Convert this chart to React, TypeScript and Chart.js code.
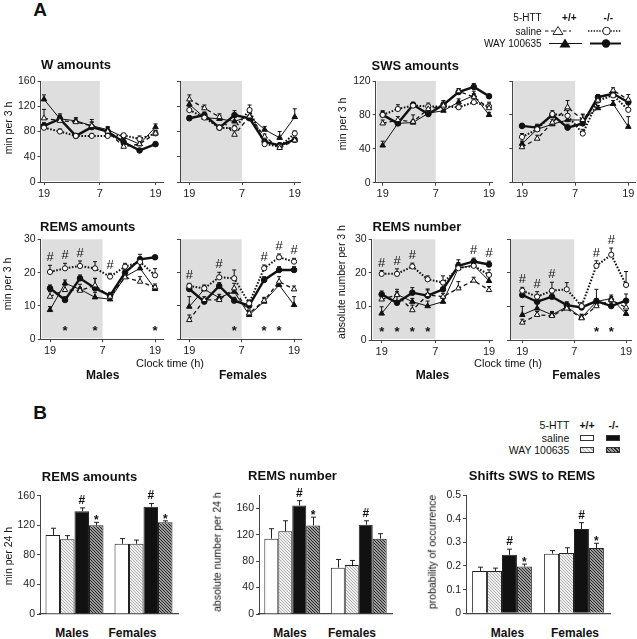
import React, { useEffect, useRef } from 'react';
import { Chart, registerables } from 'chart.js';

Chart.register(...registerables);

const FONT = '"Liberation Sans", Arial, Helvetica, sans-serif';
Chart.defaults.font.family = FONT;

// ---------- Panel A: 3-h bins from 19:00 to 19:00 ----------
const timeBins = ['19-22', '22-1', '1-4', '4-7', '7-10', '10-13', '13-16', '16-19'];
const xTickValues = [0, 3.5, 7];
const xTickLabels = ['19', '7', '19'];
const darkPhaseEnd = 3.5;

// W amounts (min per 3 h)
const W_M_wtSal = [101, 97, 95, 89, 80, 56, 60, 77];
const W_M_koSal = [86, 80, 73, 73, 73, 74, 68, 77];
const W_M_wtWay = [131, 100, 97, 89, 83, 71, 60, 87];
const W_M_koWay = [89, 100, 73, 87, 80, 63, 50, 60];
const W_M_wtSalE = [14, 8, 5, 6, 6, 4, 5, 5];
const W_M_koSalE = [5, 4, 3, 4, 4, 3, 5, 4];
const W_M_wtWayE = [7, 8, 5, 10, 5, 4, 6, 5];
const W_M_koWayE = [5, 6, 3, 8, 6, 5, 3, 3];

const W_F_wtSal = [131, 117, 103, 75, 104, 72, 54, 66];
const W_F_koSal = [114, 102, 86, 85, 114, 60, 56, 77];
const W_F_wtWay = [123, 102, 100, 96, 104, 83, 70, 103];
const W_F_koWay = [101, 106, 86, 106, 101, 64, 58, 67];
const W_F_wtSalE = [7, 5, 5, 6, 8, 4, 3, 5];
const W_F_koSalE = [6, 5, 4, 5, 8, 3, 4, 4];
const W_F_wtWayE = [6, 8, 5, 8, 6, 5, 10, 13];
const W_F_koWayE = [4, 5, 4, 7, 5, 3, 4, 3];

// SWS amounts (min per 3 h)
const S_M_wtSal = [70, 74, 72, 87, 91, 108, 101, 88];
const S_M_koSal = [80, 87, 91, 90, 90, 89, 95, 90];
const S_M_wtWay = [44, 70, 71, 82, 85, 95, 103, 80];
const S_M_koWay = [80, 70, 92, 81, 92, 107, 113, 102];
const S_M_wtSalE = [4, 4, 8, 4, 4, 3, 4, 5];
const S_M_koSalE = [4, 5, 3, 4, 5, 3, 4, 5];
const S_M_wtWayE = [5, 4, 3, 4, 3, 4, 5, 3];
const S_M_koWayE = [5, 4, 3, 4, 5, 4, 4, 2];

const S_F_wtSal = [42, 52, 71, 89, 74, 97, 109, 98];
const S_F_koSal = [54, 63, 81, 79, 58, 97, 103, 86];
const S_F_wtWay = [46, 63, 69, 74, 74, 88, 93, 66];
const S_F_koWay = [67, 65, 80, 65, 70, 101, 105, 95];
const S_F_wtSalE = [4, 4, 4, 8, 6, 4, 3, 6];
const S_F_koSalE = [4, 5, 4, 6, 5, 4, 4, 6];
const S_F_wtWayE = [3, 4, 3, 4, 7, 3, 4, 12];
const S_F_koWayE = [3, 4, 3, 4, 5, 3, 4, 4];

// REMS amounts (min per 3 h)
const RA_M_wtSal = [12.8, 14.8, 14.6, 16.2, 12.8, 18.6, 17.3, 15.6];
const RA_M_koSal = [20.2, 21.3, 22.0, 21.3, 18.8, 21.8, 23.2, 19.2];
const RA_M_wtWay = [8.8, 16.8, 15.0, 12.6, 12.0, 18.8, 21.3, 15.1];
const RA_M_koWay = [15.3, 11.8, 18.3, 15.3, 13.1, 20.0, 24.0, 24.6];
const RA_M_wtSalE = [1.5, 1.5, 1, 2, 1, 1, 1.5, 1];
const RA_M_koSalE = [2, 1.5, 1.5, 2, 1, 1, 1.5, 2];
const RA_M_wtWayE = [1, 1, 1.5, 1.5, 1, 1, 2, 1];
const RA_M_koWayE = [1, 1, 1, 3, 1, 1, 1.5, 0.5];
const RA_M_hash = [0, 1, 2, 4];
const RA_M_star = [1, 3, 7];

const RA_F_wtSal = [5.8, 11.8, 11.8, 15.3, 7.8, 11.6, 17.3, 15.0];
const RA_F_koSal = [16.0, 15.3, 18.6, 18.3, 10.8, 21.3, 24.6, 23.3];
const RA_F_wtWay = [9.8, 15.0, 12.5, 14.3, 7.3, 11.3, 16.3, 10.3];
const RA_F_koWay = [15.1, 11.3, 16.0, 11.6, 10.1, 17.8, 20.8, 20.8];
const RA_F_wtSalE = [1.5, 1, 1, 1.5, 1, 1, 1.5, 1];
const RA_F_koSalE = [0.8, 1, 1.5, 2.5, 1, 1, 1, 1];
const RA_F_wtWayE = [3, 1, 1, 1, 1, 1, 1, 2.5];
const RA_F_koWayE = [1, 1, 1, 1, 1, 1, 1, 1];
const RA_F_hash = [0, 2, 5, 6, 7];
const RA_F_star = [3, 5, 6];

// REMS number (absolute number per 3 h)
const RN_M_wtSal = [12.1, 13.4, 8.9, 13.4, 12.9, 15.4, 17.7, 14.9];
const RN_M_koSal = [19.7, 19.7, 21.9, 18.1, 17.1, 21.4, 22.1, 19.4];
const RN_M_wtWay = [7.9, 13.6, 11.4, 10.1, 11.4, 21.4, 22.3, 17.6];
const RN_M_koWay = [13.6, 11.1, 14.1, 13.2, 15.1, 22.1, 23.4, 22.5];
const RN_M_wtSalE = [1, 1, 1.5, 1.5, 1, 2, 1, 1];
const RN_M_koSalE = [1, 1.5, 1, 1, 2, 1, 1, 1.5];
const RN_M_wtWayE = [2, 1.5, 1, 1.5, 1, 2.5, 1, 1.5];
const RN_M_koWayE = [1, 2, 1.5, 2, 1.5, 1, 1, 1];
const RN_M_hash = [0, 1, 2, 6, 7];
const RN_M_star = [0, 1, 2, 3];

const RN_F_wtSal = [5.2, 7.5, 7.2, 9.4, 6.5, 10.1, 11.9, 9.7];
const RN_F_koSal = [14.7, 12.9, 14.7, 15.1, 10.1, 22.1, 25.4, 16.4];
const RN_F_wtWay = [7.5, 9.4, 7.5, 9.9, 6.7, 11.4, 12.4, 7.8];
const RN_F_koWay = [13.4, 11.4, 12.9, 10.4, 9.7, 11.6, 10.1, 11.7];
const RN_F_wtSalE = [1, 1, 1, 1, 1, 1, 1, 1.5];
const RN_F_koSalE = [1, 1.5, 2.5, 2, 1, 1.5, 2, 4];
const RN_F_wtWayE = [2.5, 1.5, 1, 1, 1, 1, 1, 1];
const RN_F_koWayE = [1, 1, 1, 1, 1, 3.5, 1, 2];
const RN_F_hash = [0, 1, 2, 5, 6];
const RN_F_star = [5, 6];

const starLevel = 3.4;

// ---------- Panel B: 24-h totals ----------
const B_cats = ['Males', 'Females'];
const remsAmt_wtSal = [107, 95];
const remsAmt_wtWay = [101, 95];
const remsAmt_koSal = [139, 145];
const remsAmt_koWay = [120, 124];
const remsAmt_wtSalE = [9, 7];
const remsAmt_wtWayE = [5, 5];
const remsAmt_koSalE = [4.5, 4.5];
const remsAmt_koWayE = [4, 2];
const remsAmt_koSalMarks = ['#', '#'];
const remsAmt_koWayMarks = ['*', '*'];

const remsNum_wtSal = [114, 70];
const remsNum_wtWay = [125, 74];
const remsNum_koSal = [164, 135];
const remsNum_koWay = [134, 114];
const remsNum_wtSalE = [15, 12.5];
const remsNum_wtWayE = [16, 7];
const remsNum_koSalE = [7.5, 6];
const remsNum_koWayE = [12.5, 7.5];
const remsNum_koSalMarks = ['#', '#'];
const remsNum_koWayMarks = ['*', ''];

const shifts_wtSal = [0.179, 0.252];
const shifts_wtWay = [0.179, 0.255];
const shifts_koSal = [0.247, 0.356];
const shifts_koWay = [0.198, 0.276];
const shifts_wtSalE = [0.016, 0.013];
const shifts_wtWayE = [0.012, 0.022];
const shifts_koSalE = [0.024, 0.027];
const shifts_koWayE = [0.01, 0.02];
const shifts_koSalMarks = ['#', '#'];
const shifts_koWayMarks = ['*', '*'];

// ---------- styles ----------
const INK = '#111';
const AXIS = '#444';
const lineStyles = [
  { label: '+/+ saline', borderColor: INK, borderWidth: 1.3, borderDash: [4, 3], pointStyle: 'triangle', pointRadius: 3.2, pointBackgroundColor: '#fff', pointBorderColor: INK, pointBorderWidth: 1 },
  { label: '-/- saline', borderColor: INK, borderWidth: 2, borderDash: [1.6, 1.6], pointStyle: 'circle', pointRadius: 2.6, pointBackgroundColor: '#fff', pointBorderColor: INK, pointBorderWidth: 1 },
  { label: '+/+ WAY 100635', borderColor: INK, borderWidth: 1, borderDash: [], pointStyle: 'triangle', pointRadius: 3.2, pointBackgroundColor: INK, pointBorderColor: INK, pointBorderWidth: 1 },
  { label: '-/- WAY 100635', borderColor: INK, borderWidth: 2.4, borderDash: [], pointStyle: 'circle', pointRadius: 2.8, pointBackgroundColor: INK, pointBorderColor: INK, pointBorderWidth: 1 },
];

type Box = { l: number; t: number; r: number; b: number };

function geom(box: Box, left: number, top: number, right: number, bottom: number) {
  const cl = Math.floor(box.l - left);
  const ct = Math.floor(box.t - top);
  const W = Math.ceil(box.r + right) - cl;
  const H = Math.ceil(box.b + bottom) - ct;
  return { cl, ct, W, H, padL: box.l - cl, padT: box.t - ct, padR: cl + W - box.r, padB: ct + H - box.b };
}

const linePanels = [
  { key: 'wM', box: { l: 40.5, t: 81, r: 163, b: 182 }, xMin: -0.22, xMax: 7.47, yMax: 160, yStep: 40, yLabels: true,
    vals: [W_M_wtSal, W_M_koSal, W_M_wtWay, W_M_koWay], errs: [W_M_wtSalE, W_M_koSalE, W_M_wtWayE, W_M_koWayE], hash: [], stars: [] },
  { key: 'wF', box: { l: 180, t: 81, r: 300, b: 182 }, xMin: -0.62, xMax: 7.35, yMax: 160, yStep: 40, yLabels: false,
    vals: [W_F_wtSal, W_F_koSal, W_F_wtWay, W_F_koWay], errs: [W_F_wtSalE, W_F_koSalE, W_F_wtWayE, W_F_koWayE], hash: [], stars: [] },
  { key: 'sM', box: { l: 375.7, t: 81, r: 492.7, b: 182.7 }, xMin: -0.46, xMax: 7.24, yMax: 120, yStep: 40, yLabels: true,
    vals: [S_M_wtSal, S_M_koSal, S_M_wtWay, S_M_koWay], errs: [S_M_wtSalE, S_M_koSalE, S_M_wtWayE, S_M_koWayE], hash: [], stars: [] },
  { key: 'sF', box: { l: 512.3, t: 81, r: 635, b: 182.7 }, xMin: -0.64, xMax: 7.44, yMax: 120, yStep: 40, yLabels: false,
    vals: [S_F_wtSal, S_F_koSal, S_F_wtWay, S_F_koWay], errs: [S_F_wtSalE, S_F_koSalE, S_F_wtWayE, S_F_koWayE], hash: [], stars: [] },
  { key: 'raM', box: { l: 40.7, t: 239.3, r: 163, b: 339.3 }, xMin: -0.62, xMax: 7.53, yMax: 30, yStep: 10, yLabels: true,
    vals: [RA_M_wtSal, RA_M_koSal, RA_M_wtWay, RA_M_koWay], errs: [RA_M_wtSalE, RA_M_koSalE, RA_M_wtWayE, RA_M_koWayE], hash: RA_M_hash, stars: RA_M_star },
  { key: 'raF', box: { l: 180, t: 239.3, r: 301.7, b: 339.3 }, xMin: -0.62, xMax: 7.51, yMax: 30, yStep: 10, yLabels: false,
    vals: [RA_F_wtSal, RA_F_koSal, RA_F_wtWay, RA_F_koWay], errs: [RA_F_wtSalE, RA_F_koSalE, RA_F_wtWayE, RA_F_koWayE], hash: RA_F_hash, stars: RA_F_star },
  { key: 'rnM', box: { l: 371.7, t: 239.3, r: 492.7, b: 340 }, xMin: -0.65, xMax: 7.24, yMax: 30, yStep: 10, yLabels: true,
    vals: [RN_M_wtSal, RN_M_koSal, RN_M_wtWay, RN_M_koWay], errs: [RN_M_wtSalE, RN_M_koSalE, RN_M_wtWayE, RN_M_koWayE], hash: RN_M_hash, stars: RN_M_star },
  { key: 'rnF', box: { l: 510, t: 239.3, r: 631.7, b: 340 }, xMin: -0.83, xMax: 7.38, yMax: 30, yStep: 10, yLabels: false,
    vals: [RN_F_wtSal, RN_F_koSal, RN_F_wtWay, RN_F_koWay], errs: [RN_F_wtSalE, RN_F_koSalE, RN_F_wtWayE, RN_F_koWayE], hash: RN_F_hash, stars: RN_F_star },
];

function LinePanel(p: any) {
  const ref = useRef<HTMLCanvasElement>(null);
  const g = geom(p.box, 38, 14, 10, 22);
  useEffect(() => {
    const shade = {
      id: 'shade',
      beforeDraw(chart: any) {
        const { ctx, chartArea } = chart;
        const x = chart.scales.x;
        const x1 = x.getPixelForValue(darkPhaseEnd);
        ctx.save();
        ctx.fillStyle = '#dedede';
        ctx.fillRect(chartArea.left + 1, chartArea.top, x1 - chartArea.left - 1, chartArea.bottom - chartArea.top - 1);
        ctx.restore();
      },
    };
    const errBars = {
      id: 'errBars',
      beforeDatasetsDraw(chart: any) {
        const { ctx } = chart;
        const xs = chart.scales.x, ys = chart.scales.y;
        ctx.save();
        ctx.strokeStyle = INK;
        ctx.lineWidth = 1;
        chart.data.datasets.forEach((ds: any) => {
          ds.data.forEach((pt: any, i: number) => {
            const e = ds.errs[i];
            const x = xs.getPixelForValue(pt.x);
            const y0 = ys.getPixelForValue(pt.y);
            const y1 = ys.getPixelForValue(pt.y + e);
            ctx.beginPath();
            ctx.moveTo(x, y0);
            ctx.lineTo(x, y1);
            ctx.moveTo(x - 2, y1);
            ctx.lineTo(x + 2, y1);
            ctx.stroke();
          });
        });
        ctx.restore();
      },
    };
    const annot = {
      id: 'annot',
      afterDatasetsDraw(chart: any) {
        const { ctx } = chart;
        const xs = chart.scales.x, ys = chart.scales.y;
        ctx.save();
        ctx.fillStyle = INK;
        ctx.textAlign = 'center';
        ctx.textBaseline = 'alphabetic';
        p.hash.forEach((i: number) => {
          let top = -Infinity;
          chart.data.datasets.forEach((ds: any) => {
            const v = ds.data[i].y + ds.errs[i];
            if (v > top) top = v;
          });
          ctx.font = `13px ${FONT}`;
          ctx.fillText('#', xs.getPixelForValue(i), ys.getPixelForValue(top) - 4);
        });
        p.stars.forEach((i: number) => {
          ctx.font = `bold 13px ${FONT}`;
          ctx.fillText('*', xs.getPixelForValue(i), ys.getPixelForValue(starLevel) + 7.5);
        });
        ctx.restore();
      },
    };
    const chart = new Chart(ref.current as HTMLCanvasElement, {
      type: 'line',
      data: {
        datasets: lineStyles.map((st, si) => ({
          ...st,
          fill: false,
          tension: 0,
          data: p.vals[si].map((v: number, i: number) => ({ x: timeBins.indexOf(timeBins[i]), y: v })),
          errs: p.errs[si],
        })) as any,
      },
      options: {
        animation: false,
        responsive: false,
        maintainAspectRatio: false,
        devicePixelRatio: 1,
        layout: { padding: { left: 0, top: g.padT, right: g.padR, bottom: 0 } },
        plugins: { legend: { display: false }, tooltip: { enabled: false } },
        scales: {
          x: {
            type: 'linear',
            min: p.xMin,
            max: p.xMax,
            afterBuildTicks: (s: any) => { s.ticks = xTickValues.map((v) => ({ value: v })); },
            afterFit: (s: any) => { s.height = g.padB; s.paddingLeft = 0; s.paddingRight = 0; },
            grid: { display: true, drawOnChartArea: false, drawTicks: true, tickLength: 3, color: AXIS },
            border: { display: true, color: AXIS, width: 1 },
            ticks: {
              autoSkip: false, maxRotation: 0, padding: 2, color: '#222',
              font: { size: 11, family: FONT },
              callback: (_v: any, i: number) => xTickLabels[i],
            },
          },
          y: {
            min: 0,
            max: p.yMax,
            afterFit: (s: any) => { s.width = g.padL; s.paddingTop = 0; s.paddingBottom = 0; },
            grid: { display: true, drawOnChartArea: false, drawTicks: true, tickLength: 3, color: AXIS },
            border: { display: true, color: AXIS, width: 1 },
            ticks: { stepSize: p.yStep, display: p.yLabels, padding: 2, color: '#222', font: { size: 10.5, family: FONT } },
          },
        },
      } as any,
      plugins: [shade, errBars, annot],
    });
    return () => chart.destroy();
  }, []);
  return (
    <canvas ref={ref} width={g.W} height={g.H}
      style={{ position: 'absolute', left: g.cl, top: g.ct, width: g.W, height: g.H }} />
  );
}

function makePattern(bg: string, fg: string, size: number) {
  const c = document.createElement('canvas');
  c.width = size; c.height = size;
  const x = c.getContext('2d') as CanvasRenderingContext2D;
  x.fillStyle = bg;
  x.fillRect(0, 0, size, size);
  x.strokeStyle = fg;
  x.lineWidth = 1;
  x.beginPath();
  for (let k = -1; k <= 1; k++) {
    x.moveTo(k * size, 0);
    x.lineTo(k * size + size, size);
  }
  x.stroke();
  return x.createPattern(c, 'repeat');
}

const barPanels = [
  { key: 'bAmt', box: { l: 40, t: 495.7, r: 178, b: 614 }, cp: 0.84, yMax: 160, yStep: 40, fmt: (v: number) => String(v),
    vals: [remsAmt_wtSal, remsAmt_wtWay, remsAmt_koSal, remsAmt_koWay],
    errs: [remsAmt_wtSalE, remsAmt_wtWayE, remsAmt_koSalE, remsAmt_koWayE],
    marks: [['', ''], ['', ''], remsAmt_koSalMarks, remsAmt_koWayMarks] },
  { key: 'bNum', box: { l: 259, t: 495, r: 392, b: 614 }, cp: 0.84, yMax: 180, yStep: 40, fmt: (v: number) => String(v),
    vals: [remsNum_wtSal, remsNum_wtWay, remsNum_koSal, remsNum_koWay],
    errs: [remsNum_wtSalE, remsNum_wtWayE, remsNum_koSalE, remsNum_koWayE],
    marks: [['', ''], ['', ''], remsNum_koSalMarks, remsNum_koWayMarks] },
  { key: 'bShift', box: { l: 466, t: 495, r: 610, b: 613.3 }, cp: 0.83, yMax: 0.5, yStep: 0.1, fmt: (v: number) => (v === 0 ? '0' : v.toFixed(1)),
    vals: [shifts_wtSal, shifts_wtWay, shifts_koSal, shifts_koWay],
    errs: [shifts_wtSalE, shifts_wtWayE, shifts_koSalE, shifts_koWayE],
    marks: [['', ''], ['', ''], shifts_koSalMarks, shifts_koWayMarks] },
];

function BarPanel(p: any) {
  const ref = useRef<HTMLCanvasElement>(null);
  const g = geom(p.box, 38, 24, 6, 6);
  useEffect(() => {
    const light = makePattern('#eeeeee', '#b3b3b3', 3);
    const dark = makePattern('#9c9c9c', '#262626', 3);
    const fills = ['#ffffff', light, '#111111', dark];
    const labels = ['+/+ saline', '+/+ WAY 100635', '-/- saline', '-/- WAY 100635'];
    const errBars = {
      id: 'barErr',
      afterDatasetsDraw(chart: any) {
        const { ctx } = chart;
        const ys = chart.scales.y;
        ctx.save();
        ctx.strokeStyle = '#222';
        ctx.fillStyle = INK;
        ctx.lineWidth = 1;
        ctx.textAlign = 'center';
        ctx.textBaseline = 'alphabetic';
        chart.data.datasets.forEach((ds: any, di: number) => {
          const meta = chart.getDatasetMeta(di);
          meta.data.forEach((el: any, i: number) => {
            const v = ds.data[i];
            const y0 = ys.getPixelForValue(v);
            const y1 = ys.getPixelForValue(v + ds.errs[i]);
            const x = Math.round(el.x) + 0.5;
            ctx.beginPath();
            ctx.moveTo(x, y0);
            ctx.lineTo(x, y1);
            ctx.moveTo(x - 2.5, y1);
            ctx.lineTo(x + 2.5, y1);
            ctx.stroke();
            const m = ds.marks[i];
            if (m === '#') {
              ctx.font = `bold 12px ${FONT}`;
              ctx.fillText('#', el.x, y1 - 4);
            } else if (m === '*') {
              ctx.font = `bold 12px ${FONT}`;
              ctx.fillText('*', el.x, y1 + 2);
            }
          });
        });
        ctx.restore();
      },
    };
    const chart = new Chart(ref.current as HTMLCanvasElement, {
      type: 'bar',
      data: {
        labels: B_cats,
        datasets: p.vals.map((vals: number[], i: number) => ({
          label: labels[i],
          data: vals,
          errs: p.errs[i],
          marks: p.marks[i],
          backgroundColor: fills[i],
          borderColor: '#222',
          borderWidth: 1,
          categoryPercentage: p.cp,
          barPercentage: 1,
        })),
      },
      options: {
        animation: false,
        responsive: false,
        maintainAspectRatio: false,
        devicePixelRatio: 1,
        layout: { padding: { left: 0, top: g.padT, right: g.padR, bottom: 0 } },
        plugins: { legend: { display: false }, tooltip: { enabled: false } },
        scales: {
          x: {
            afterFit: (s: any) => { s.height = g.padB; s.paddingLeft = 0; s.paddingRight = 0; },
            grid: { display: true, drawOnChartArea: false, drawTicks: false, color: AXIS },
            border: { display: true, color: AXIS, width: 1.2 },
            ticks: { display: false },
          },
          y: {
            min: 0,
            max: p.yMax,
            afterFit: (s: any) => { s.width = g.padL; s.paddingTop = 0; s.paddingBottom = 0; },
            grid: { display: true, drawOnChartArea: false, drawTicks: true, tickLength: 3, color: AXIS },
            border: { display: true, color: AXIS, width: 1 },
            ticks: { stepSize: p.yStep, includeBounds: false, padding: 2, color: '#222', font: { size: 10.5, family: FONT }, callback: p.fmt },
          },
        },
      } as any,
      plugins: [errBars],
    });
    return () => chart.destroy();
  }, []);
  return (
    <canvas ref={ref} width={g.W} height={g.H}
      style={{ position: 'absolute', left: g.cl, top: g.ct, width: g.W, height: g.H }} />
  );
}

function Txt({ x, y, s, size = 10.5, bold = false, align = 'center', rot = false }: any) {
  const tx = align === 'left' ? '0' : align === 'right' ? '-100%' : '-50%';
  return (
    <div style={{
      position: 'absolute', left: x, top: y, whiteSpace: 'nowrap', lineHeight: 1,
      fontSize: size, fontWeight: bold ? 700 : 400,
      transform: `translate(${tx},-50%)${rot ? ' rotate(-90deg)' : ''}`,
    }}>{s}</div>
  );
}

function Swatch({ x, y, bg }: any) {
  return <div style={{ position: 'absolute', left: x, top: y, width: 14, height: 6, boxSizing: 'border-box', border: '1px solid #333', background: bg }} />;
}

export default function App() {
  return (
    <div style={{ position: 'absolute', left: 0, top: 0, width: 637, height: 639, background: '#fff', overflow: 'hidden', fontFamily: FONT, color: INK }}>
      {linePanels.map((p) => <LinePanel key={p.key} {...p} />)}
      {barPanels.map((p) => <BarPanel key={p.key} {...p} />)}

      <Txt x={40} y={9} s="A" size={19} bold />
      <Txt x={40} y={412} s="B" size={19} bold />

      <Txt x={41} y={64} s="W amounts" size={13} bold align="left" />
      <Txt x={371.5} y={65} s="SWS amounts" size={13} bold align="left" />
      <Txt x={40} y={226} s="REMS amounts" size={13} bold align="left" />
      <Txt x={372.5} y={226} s="REMS number" size={13} bold align="left" />

      <Txt x={8} y={128} s="min per 3 h" rot />
      <Txt x={342} y={124} s="min per 3 h" rot />
      <Txt x={7} y={284} s="min per 3 h" rot />
      <Txt x={341} y={282} s="absolute number per 3 h" rot />

      <Txt x={170} y={363} s="Clock time (h)" size={11} />
      <Txt x={508} y={363} s="Clock time (h)" size={11} />
      <Txt x={102.7} y={375} s="Males" size={12} bold />
      <Txt x={243} y={375} s="Females" size={12} bold />
      <Txt x={432.5} y={375} s="Males" size={12} bold />
      <Txt x={576.3} y={375} s="Females" size={12} bold />

      <svg width={637} height={60} style={{ position: 'absolute', left: 0, top: 0 }}>
        <g fontFamily={FONT} fontSize={10} fill={INK}>
          <text x={541.7} y={17} textAnchor="end" dominantBaseline="central">5-HTT</text>
          <text x={569.3} y={17} textAnchor="middle" dominantBaseline="central" fontWeight="bold">+/+</text>
          <text x={608.3} y={17} textAnchor="middle" dominantBaseline="central" fontWeight="bold">-/-</text>
          <text x={541.7} y={31} textAnchor="end" dominantBaseline="central">saline</text>
          <text x={541.7} y={43.5} textAnchor="end" dominantBaseline="central">WAY 100635</text>
        </g>
        <line x1={545} x2={571} y1={31} y2={31} stroke={INK} strokeWidth={1.2} strokeDasharray="3.5 2.5" />
        <polygon points="558,26.5 563,34.5 553,34.5" fill="#fff" stroke={INK} strokeWidth={0.9} />
        <line x1={588} x2={621} y1={31} y2={31} stroke={INK} strokeWidth={1.6} strokeDasharray="1.4 1.4" />
        <circle cx={606.5} cy={31} r={3.8} fill="#fff" stroke={INK} strokeWidth={0.9} />
        <line x1={549} x2={582} y1={43.5} y2={43.5} stroke={INK} strokeWidth={1} />
        <polygon points="565,38.5 570.5,47.5 559.5,47.5" fill={INK} />
        <line x1={590} x2={621} y1={43.5} y2={43.5} stroke={INK} strokeWidth={2} />
        <circle cx={606} cy={43.5} r={4.2} fill={INK} />
      </svg>

      <Txt x={89.5} y={476} s="REMS amounts" size={13} bold />
      <Txt x={292.5} y={475} s="REMS number" size={13} bold />
      <Txt x={532} y={475} s="Shifts SWS to REMS" size={13} bold />

      <Txt x={8} y={556} s="min per 24 h" rot />
      <Txt x={217} y={552} s="absolute number per 24 h" rot />
      <Txt x={432} y={552} s="probability of occurrence" rot />

      <Txt x={72} y={633} s="Males" size={12} bold />
      <Txt x={132.5} y={633} s="Females" size={12} bold />
      <Txt x={290} y={633} s="Males" size={12} bold />
      <Txt x={352} y={633} s="Females" size={12} bold />
      <Txt x={507.5} y={633} s="Males" size={12} bold />
      <Txt x={575} y={633} s="Females" size={12} bold />

      <Txt x={569.3} y={425} s="5-HTT" align="right" />
      <Txt x={587} y={425} s="+/+" bold />
      <Txt x={613.5} y={425} s="-/-" bold />
      <Txt x={569.3} y={437.7} s="saline" align="right" />
      <Txt x={569.3} y={450} s="WAY 100635" align="right" />
      <Swatch x={580} y={434.5} bg="#fff" />
      <Swatch x={606} y={434.5} bg="#111" />
      <Swatch x={580} y={447} bg="repeating-linear-gradient(45deg, #b3b3b3 0 1px, #eeeeee 1px 3px)" />
      <Swatch x={606} y={447} bg="repeating-linear-gradient(45deg, #262626 0 1px, #9c9c9c 1px 2.5px)" />
    </div>
  );
}
